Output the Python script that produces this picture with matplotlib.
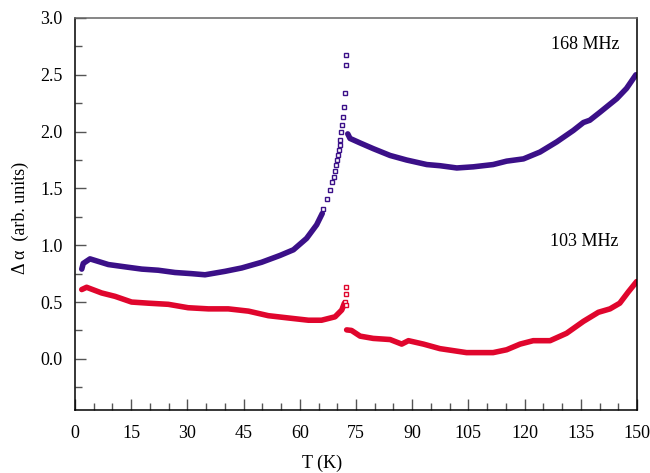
import matplotlib
matplotlib.use("Agg")
import matplotlib.pyplot as plt
from matplotlib.ticker import MultipleLocator

plt.rcParams["font.family"] = ["Liberation Serif", "DejaVu Serif"]

# 168 MHz (purple): below transition, sparse points at transition, above transition
p_low_T = [1.8, 2.2, 4.0, 8.9, 13.3, 17.8, 22.2, 26.7, 31.1, 34.7, 40.0, 44.5, 49.8,
           54.7, 58.3, 61.8, 64.5, 66.0]
p_low_v = [0.79, 0.84, 0.88, 0.83, 0.81, 0.79, 0.78, 0.76, 0.75, 0.74, 0.77, 0.80,
           0.85, 0.91, 0.96, 1.06, 1.18, 1.28]
p_peak_T = [66.3, 67.2, 68.0, 68.7, 69.0, 69.4, 69.7, 69.9, 70.2, 70.5, 70.6, 70.8,
            71.0, 71.2, 71.4, 71.7, 72.0, 72.2, 72.3]
p_peak_v = [1.32, 1.41, 1.49, 1.56, 1.60, 1.65, 1.71, 1.75, 1.79, 1.84, 1.88, 1.93,
            2.00, 2.06, 2.13, 2.22, 2.34, 2.59, 2.67]
p_high_T = [72.8, 73.4, 76.1, 79.6, 84.1, 88.5, 93.9, 97.4, 101.9, 106.3, 111.6, 115.2,
            119.7, 124.1, 128.6, 133.0, 135.7, 137.4, 140.1, 144.6, 147.2, 149.7]
p_high_v = [1.98, 1.94, 1.90, 1.85, 1.79, 1.75, 1.71, 1.70, 1.68, 1.69, 1.71, 1.74,
            1.76, 1.82, 1.91, 2.01, 2.08, 2.10, 2.17, 2.29, 2.38, 2.50]

# 103 MHz (red)
r_low_T = [1.8, 3.1, 7.1, 10.7, 15.1, 19.6, 24.9, 30.2, 35.6, 40.9, 46.3, 51.6, 56.9,
           62.3, 65.8, 69.4, 71.2, 71.9]
r_low_v = [0.61, 0.63, 0.58, 0.55, 0.50, 0.49, 0.48, 0.45, 0.44, 0.44, 0.42, 0.38,
           0.36, 0.34, 0.34, 0.37, 0.43, 0.49]
r_peak_T = [72.1, 72.3, 72.2, 72.3]
r_peak_v = [0.50, 0.57, 0.63, 0.47]
r_high_T = [72.5, 73.8, 76.1, 79.6, 84.1, 87.2, 89.0, 93.0, 97.4, 104.5, 111.6, 115.2,
            118.8, 122.3, 126.8, 131.2, 135.7, 139.7, 142.8, 145.4, 147.7, 149.9]
r_high_v = [0.255, 0.25, 0.20, 0.18, 0.17, 0.13, 0.16, 0.13, 0.09, 0.055, 0.055, 0.08,
            0.13, 0.16, 0.16, 0.225, 0.33, 0.41, 0.44, 0.49, 0.59, 0.68]

purple = "#3b1088"
red = "#e0062d"

fig = plt.figure(figsize=(6.5, 4.73), dpi=100)
ax = fig.add_axes([0.1154, 0.1332, 0.8646, 0.8288])

for T, v, c in [(p_low_T, p_low_v, purple), (p_high_T, p_high_v, purple),
                (r_low_T, r_low_v, red), (r_high_T, r_high_v, red)]:
    ax.plot(T, v, color=c, lw=4, solid_capstyle="round", solid_joinstyle="round")
ax.plot(p_peak_T, p_peak_v, ls="none", marker="s", ms=3.3, mfc="white", mec=purple, mew=1)
ax.plot(r_peak_T, r_peak_v, ls="none", marker="s", ms=3.3, mfc="white", mec=red, mew=1)

ax.text(145.4, 2.77, "168 MHz", ha="right", va="center", fontsize=13)
ax.text(145.0, 1.03, "103 MHz", ha="right", va="center", fontsize=13)

ax.set_xlim(0, 150)
ax.set_ylim(-0.45, 3.0)
ax.xaxis.set_major_locator(MultipleLocator(15))
ax.xaxis.set_minor_locator(MultipleLocator(5))
ax.yaxis.set_minor_locator(MultipleLocator(0.25))
ax.set_yticks([0.0, 0.5, 1.0, 1.5, 2.0, 2.5, 3.0])
ax.set_yticklabels(["0.0", "0.5", "1.0", "1.5", "2.0", "2.5", "3.0"])
ax.tick_params(which="both", direction="in", top=False, right=False, labelsize=13,
               color="#555555")
ax.tick_params(which="major", length=8, width=1)
ax.tick_params(which="minor", length=5, width=1)
ax.tick_params(axis="x", pad=11)
ax.tick_params(axis="y", pad=9)
for s in ax.spines.values():
    s.set_linewidth(1.1)
ax.spines["top"].set_color("#666666")

ax.set_xlabel("T (K)", fontsize=13)
ax.set_ylabel("\u0394 \u03b1  (arb. units)", fontsize=13)
ax.xaxis.set_label_coords(0.44, -0.113)
ax.yaxis.set_label_coords(-0.082, 0.49)

fig.savefig("out.png", dpi=100)
